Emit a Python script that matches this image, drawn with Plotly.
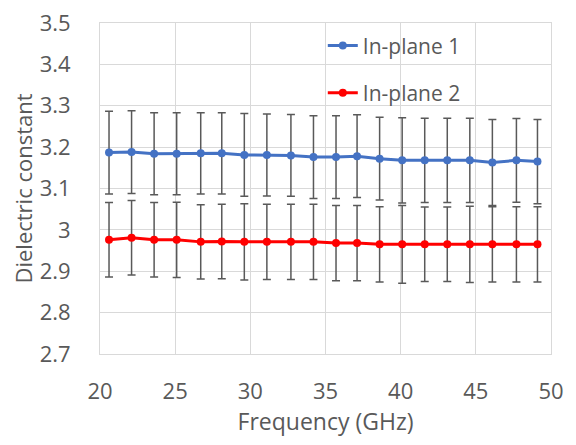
import plotly.graph_objects as go

freq = [20.6, 22.1, 23.6, 25.1, 26.7, 28.1, 29.6, 31.1, 32.7, 34.2,
        35.7, 37.1, 38.6, 40.1, 41.6, 43.1, 44.6, 46.1, 47.7, 49.1]
inplane1 = [3.187, 3.188, 3.184, 3.184, 3.185, 3.185, 3.181, 3.181, 3.180, 3.176,
            3.176, 3.178, 3.172, 3.168, 3.168, 3.168, 3.168, 3.163, 3.168, 3.165]
inplane1_err = [0.100, 0.100, 0.099, 0.099, 0.098, 0.098, 0.100, 0.099, 0.099, 0.100,
                0.100, 0.100, 0.100, 0.103, 0.102, 0.102, 0.102, 0.104, 0.101, 0.102]
inplane2 = [2.976, 2.981, 2.976, 2.976, 2.971, 2.972, 2.971, 2.971, 2.971, 2.971,
            2.968, 2.968, 2.965, 2.965, 2.965, 2.965, 2.965, 2.965, 2.965, 2.965]
inplane2_err = [0.090, 0.090, 0.090, 0.091, 0.090, 0.090, 0.092, 0.091, 0.091, 0.091,
                0.091, 0.091, 0.091, 0.094, 0.090, 0.090, 0.092, 0.091, 0.091, 0.091]
y_ticks = [2.7, 2.8, 2.9, 3.0, 3.1, 3.2, 3.3, 3.4, 3.5]
y_ticktext = ["2.7", "2.8", "2.9", "3", "3.1", "3.2", "3.3", "3.4", "3.5"]

err_color = "#595959"
text_color = "#595959"
grid_color = "#D9D9D9"
font_family = "Open Sans, DejaVu Sans, sans-serif"

fig = go.Figure()
fig.add_trace(go.Scatter(
    x=freq, y=inplane1, name="In-plane 1", mode="lines+markers",
    line=dict(color="#4472C4", width=3),
    marker=dict(color="#4472C4", size=8),
    error_y=dict(type="data", array=inplane1_err, visible=True,
                 color=err_color, thickness=1.5, width=4),
    legendgroup="a",
))
fig.add_trace(go.Scatter(
    x=freq, y=inplane2, name="In-plane 2", mode="lines+markers",
    line=dict(color="#FF0000", width=3),
    marker=dict(color="#FF0000", size=8),
    error_y=dict(type="data", array=inplane2_err, visible=True,
                 color=err_color, thickness=1.5, width=4),
    legendgroup="b",
))

fig.update_layout(
    width=576, height=445,
    margin=dict(l=92, r=33, t=15, b=99),
    paper_bgcolor="white", plot_bgcolor="white",
    font=dict(family=font_family, color=text_color, size=21),
    showlegend=True,
    legend=dict(x=0.494, y=0.993, xanchor="left", yanchor="top",
                bgcolor="rgba(0,0,0,0)", font=dict(size=21, color=text_color),
                traceorder="grouped", tracegroupgap=17, itemwidth=30),
)
fig.update_xaxes(
    range=[20, 50], dtick=5, tick0=20, automargin=False,
    showgrid=True, gridcolor=grid_color, gridwidth=1,
    showline=True, linecolor=grid_color, linewidth=1, mirror=True,
    zeroline=False, ticks="", ticklabelstandoff=18, ticklabeloverflow="allow",
    tickfont=dict(size=22, color=text_color),
    title=dict(text="Frequency (GHz)", font=dict(size=23, color=text_color), standoff=2),
)
fig.update_yaxes(
    range=[2.7, 3.5], tickmode="array", tickvals=y_ticks, ticktext=y_ticktext,
    automargin=False,
    showgrid=True, gridcolor=grid_color, gridwidth=1,
    showline=True, linecolor=grid_color, linewidth=1, mirror=True,
    zeroline=False, ticks="", ticklabelstandoff=24, ticklabeloverflow="allow",
    tickfont=dict(size=22, color=text_color),
    title=dict(text="Dielectric constant", font=dict(size=22, color=text_color), standoff=1),
)

fig.write_html("out.html")
